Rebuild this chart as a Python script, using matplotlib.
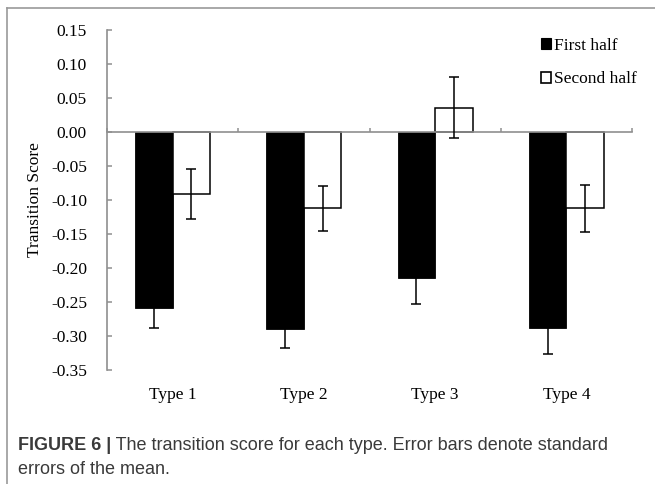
import matplotlib
matplotlib.use('Agg')
import matplotlib.pyplot as plt
from matplotlib.patches import Patch
from matplotlib.lines import Line2D
import numpy as np

# ---- data ----
categories = ['Type 1', 'Type 2', 'Type 3', 'Type 4']
series_names = ['First half', 'Second half']
first_half = [-0.259, -0.291, -0.216, -0.289]
first_half_se = [0.030, 0.028, 0.038, 0.038]
second_half = [-0.092, -0.113, 0.035, -0.113]
second_half_se = [0.037, 0.033, 0.045, 0.035]
y_ticks = [0.15, 0.10, 0.05, 0.00, -0.05, -0.10, -0.15, -0.20, -0.25, -0.30, -0.35]
y_label = 'Transition Score'
caption_bold = 'FIGURE 6 |'
caption_line1 = ' The transition score for each type. Error bars denote standard'
caption_line2 = 'errors of the mean.'

plt.rcParams['axes.unicode_minus'] = False
plt.rcParams['font.family'] = ['Liberation Serif', 'DejaVu Serif']
sans = ['Liberation Sans', 'DejaVu Sans']

W, H = 655, 484
gray = '#8f8f8f'
fig = plt.figure(figsize=(W / 100, H / 100), dpi=100)
ax = fig.add_axes([107 / W, 1 - 369.5 / H, (632 - 107) / W, 340 / H])

x = np.arange(len(categories))
w = 0.286
ax.bar(x - w / 2, first_half, w, color='black', edgecolor='black', linewidth=0.6, zorder=2)
ax.bar(x + w / 2, second_half, w, color='white', edgecolor='black', linewidth=1.1, zorder=2)
ax.errorbar(x - w / 2, first_half, yerr=first_half_se, fmt='none', ecolor='black',
            elinewidth=1.1, capsize=3.4, capthick=1.1, zorder=3)
ax.errorbar(x + w / 2, second_half, yerr=second_half_se, fmt='none', ecolor='black',
            elinewidth=1.1, capsize=3.4, capthick=1.1, zorder=3)

ax.set_xlim(-0.5, len(categories) - 0.5)
ax.set_ylim(min(y_ticks), max(y_ticks))
for s in ['top', 'right']:
    ax.spines[s].set_visible(False)
ax.spines['left'].set_color(gray)
ax.spines['left'].set_linewidth(1.2)
ax.spines['bottom'].set_position(('data', 0))
ax.spines['bottom'].set_color(gray)
ax.spines['bottom'].set_linewidth(1.2)

ax.set_yticks(y_ticks)
ax.set_yticklabels([f'{v:.2f}' for v in y_ticks], fontsize=12.5)
ax.tick_params(axis='y', direction='in', length=3.3, width=1.1, color=gray, pad=14.4)
ax.set_xticks(np.arange(-0.5, len(categories), 1.0))
ax.tick_params(axis='x', direction='in', length=3, width=1.1, color=gray, labelbottom=False)

sec = ax.secondary_xaxis('bottom')
sec.spines['bottom'].set_visible(False)
sec.set_xticks(x, categories)
sec.tick_params(length=0, pad=12.5, labelsize=12.5)

ax.set_ylabel(y_label, fontsize=12.5)
ax.yaxis.set_label_coords(-0.122, 0.5)

handles = [Patch(facecolor='black', edgecolor='black', linewidth=0.8),
           Patch(facecolor='white', edgecolor='black', linewidth=1.2)]
fig.legend(handles, series_names, loc='upper left', bbox_to_anchor=(541 / W, 1 - 38 / H),
           frameon=False, fontsize=12.5, handlelength=0.6, handleheight=0.6,
           handletextpad=0.15, labelspacing=1.0, borderpad=0, borderaxespad=0)

# caption
cap_color = '#3a3a3a'
cap_size = 13
t1 = fig.text(17.7 / W, 1 - 450 / H, caption_bold, fontfamily=sans, fontweight='bold',
              fontsize=cap_size, color=cap_color, va='baseline', ha='left')
ax.annotate(caption_line1, xy=(1, 0), xycoords=t1, va='bottom', ha='left',
            fontfamily=sans, fontsize=cap_size, color=cap_color, annotation_clip=False)
fig.text(17.7 / W, 1 - 474 / H, caption_line2, fontfamily=sans, fontsize=cap_size,
         color=cap_color, va='baseline', ha='left')

# outer frame lines
fig.add_artist(Line2D([7.3 / W, 1], [1 - 8.3 / H, 1 - 8.3 / H], transform=fig.transFigure,
                      color='#999999', linewidth=1.2))
fig.add_artist(Line2D([7.3 / W, 7.3 / W], [0, 1 - 8.3 / H], transform=fig.transFigure,
                      color='#999999', linewidth=1.2))

fig.savefig('out.png', dpi=100)
